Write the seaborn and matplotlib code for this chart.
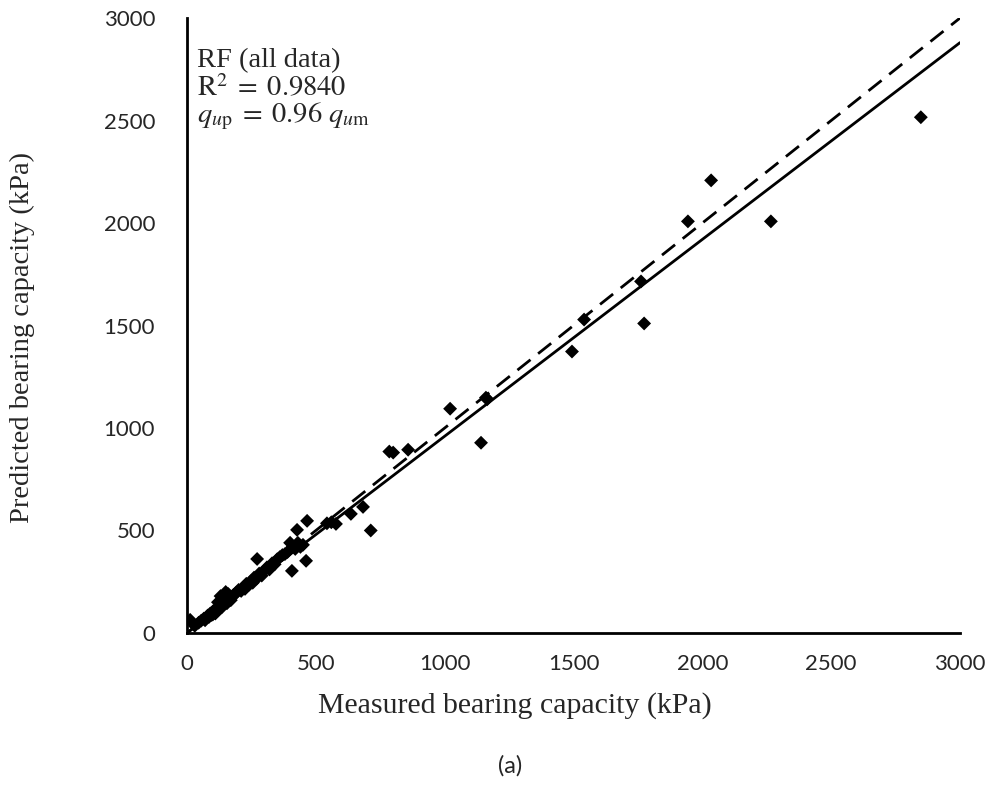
import matplotlib
matplotlib.use('Agg')
import matplotlib.pyplot as plt
import seaborn as sns
import pandas as pd

# measured vs predicted bearing capacity (kPa)
measured = [2848, 2034, 1944, 2266, 1762, 1774, 1541, 1494, 1160, 1165,
            1021, 1141, 858, 785, 800, 713, 683, 636, 466, 427,
            543, 560, 578, 462, 407, 272, 400, 12,
            30, 45, 55, 65, 70, 80, 85, 90, 95, 100,
            105, 110, 115, 120, 125, 130, 135, 140, 145, 150,
            155, 160, 165, 170, 180, 190, 195, 200, 210, 220,
            225, 230, 240, 250, 255, 260, 270, 280, 290, 300,
            310, 320, 330, 340, 350, 360, 370, 380, 390, 410,
            420, 430, 440, 450, 130, 110, 100, 120, 150, 160]
predicted = [2516, 2208, 2008, 2008, 1715, 1510, 1529, 1373, 1148, 1140,
             1094, 928, 894, 885, 880, 500, 615, 581, 547, 503,
             535, 540, 532, 352, 303, 361, 440, 64,
             35, 50, 60, 70, 62, 85, 78, 95, 88, 105,
             98, 115, 120, 110, 130, 140, 125, 150, 185, 160,
             145, 165, 175, 160, 185, 195, 200, 210, 205, 225,
             215, 240, 235, 255, 245, 270, 265, 290, 280, 305,
             320, 310, 340, 335, 360, 370, 380, 385, 395, 420,
             410, 440, 420, 430, 180, 95, 90, 150, 200, 190]

line_x = [0, 3000]
fit_y = [0, 2880]     # q_up = 0.96 q_um
ideal_y = [0, 3000]   # 1:1 line

x_ticks = [0, 500, 1000, 1500, 2000, 2500, 3000]
y_ticks = [0, 500, 1000, 1500, 2000, 2500, 3000]

df = pd.DataFrame({'measured': measured, 'predicted': predicted})

sns.set_style('white')
plt.rcParams['mathtext.fontset'] = 'stix'

fig = plt.figure(figsize=(9.97, 7.94), dpi=100)
ax = fig.add_axes([0.1876, 0.2028, 0.7753, 0.7745])

sns.lineplot(x=line_x, y=ideal_y, ax=ax, color='black', linewidth=2,
             linestyle=(0, (6, 3.5)))
sns.lineplot(x=line_x, y=fit_y, ax=ax, color='black', linewidth=2)
sns.scatterplot(data=df, x='measured', y='predicted', ax=ax, marker='D',
                color='black', s=50, edgecolor='none', zorder=3)

ax.set_xlim(0, 3000)
ax.set_ylim(0, 3000)
ax.set_xticks(x_ticks)
ax.set_yticks(y_ticks)
ax.tick_params(length=0, labelsize=16)
ax.tick_params(axis='x', pad=15)
ax.tick_params(axis='y', pad=23)
for lab in ax.get_xticklabels() + ax.get_yticklabels():
    lab.set_family('Lato')

for side in ['top', 'right']:
    ax.spines[side].set_visible(False)
for side in ['left', 'bottom']:
    ax.spines[side].set_color('black')
    ax.spines[side].set_linewidth(2)

ax.set_xlabel('')
ax.set_ylabel('')
fig.text(0.516, 0.112, 'Measured bearing capacity (kPa)', ha='center', va='center',
         family='Liberation Serif', fontsize=21.5)
fig.text(0.022, 0.575, 'Predicted bearing capacity (kPa)', ha='center', va='center',
         rotation=90, family='Liberation Serif', fontsize=20.5)
fig.text(0.512, 0.036, '(a)', ha='center', va='center', family='Lato', fontsize=17)

ax.text(0.013, 0.93, 'RF (all data)', transform=ax.transAxes, family='Liberation Serif',
        fontsize=20.5, va='center')
ax.text(0.013, 0.885, r'$\mathrm{R}^2\;=\;0.9840$', transform=ax.transAxes,
        fontsize=20.5, va='center')
ax.text(0.013, 0.84, r'$q_{u\mathrm{p}}\;=\;0.96\ q_{u\mathrm{m}}$', transform=ax.transAxes,
        fontsize=20.5, va='center')

fig.savefig('out.png', dpi=100)
